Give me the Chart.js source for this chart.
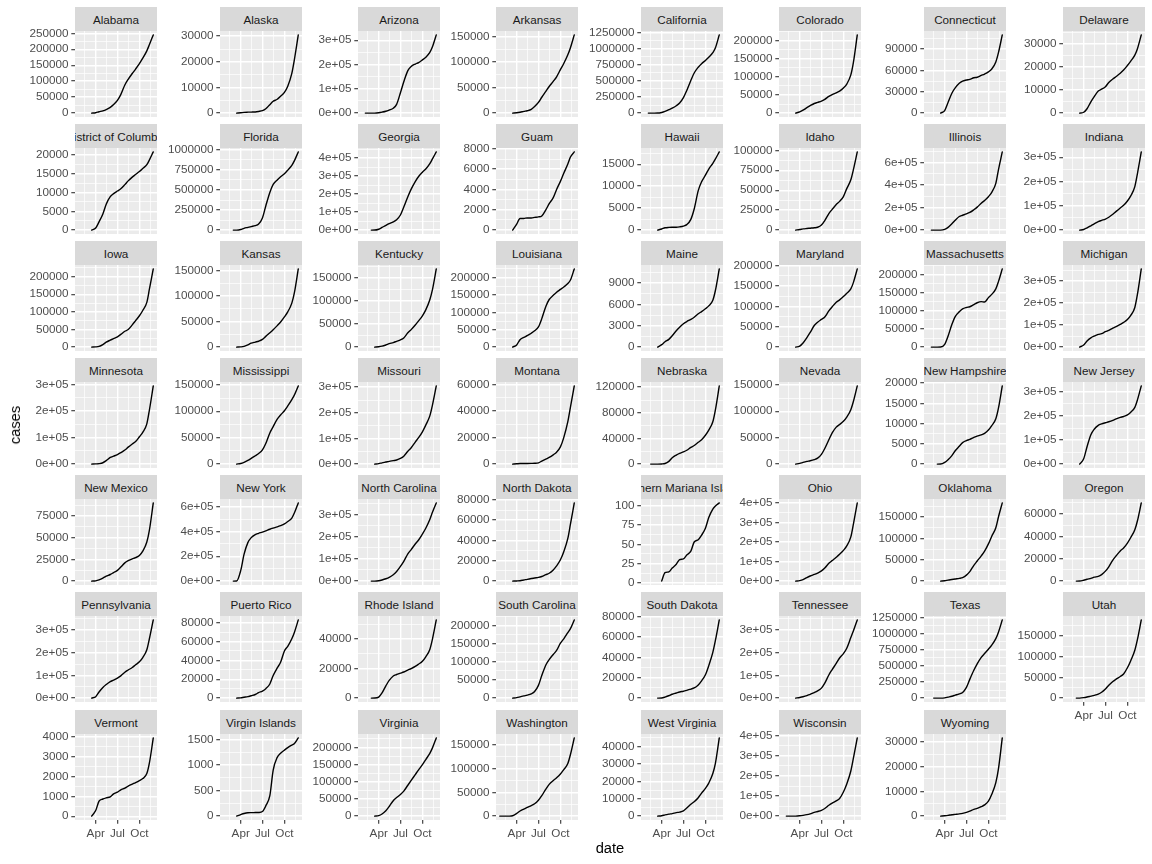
<!DOCTYPE html>
<html><head><meta charset="utf-8">
<script src="https://cdn.jsdelivr.net/npm/chart.js@4.4.1/dist/chart.umd.min.js"></script>
<style>
html,body{margin:0;padding:0;background:#fff;}
#wrap{position:relative;width:1152px;height:864px;overflow:hidden;font-family:"Liberation Sans",Arial,sans-serif;}
.strip{position:absolute;background:#D9D9D9;color:#1A1A1A;font-size:11.7px;display:flex;justify-content:center;align-items:center;overflow:hidden;white-space:nowrap;}
.strip span{flex:none;}
canvas{position:absolute;}
.title{position:absolute;color:#000;font-size:14.7px;white-space:nowrap;}
</style></head><body><div id="wrap"></div>
<script>
const N = null;
const dates = ['2020-01-21','2020-02-05','2020-02-15','2020-03-01','2020-03-15','2020-04-01','2020-04-15','2020-05-01','2020-05-15','2020-06-01','2020-06-15','2020-07-01','2020-07-15','2020-08-01','2020-08-15','2020-09-01','2020-09-15','2020-10-01','2020-10-15','2020-11-01','2020-11-12','2020-11-28'];
const stateNames = ['Alabama','Alaska','Arizona','Arkansas','California','Colorado','Connecticut','Delaware','District of Columbia','Florida','Georgia','Guam','Hawaii','Idaho','Illinois','Indiana','Iowa','Kansas','Kentucky','Louisiana','Maine','Maryland','Massachusetts','Michigan','Minnesota','Mississippi','Missouri','Montana','Nebraska','Nevada','New Hampshire','New Jersey','New Mexico','New York','North Carolina','North Dakota','Northern Mariana Islands','Ohio','Oklahoma','Oregon','Pennsylvania','Puerto Rico','Rhode Island','South Carolina','South Dakota','Tennessee','Texas','Utah','Vermont','Virgin Islands','Virginia','Washington','West Virginia','Wisconsin','Wyoming'];

const alabama = [N,N,N,N,12,1100,4100,7000,11000,18000,27000,40000,58000,88000,106000,124000,138000,155000,172000,195000,215000,245000];
const alaska = [N,N,N,N,1,130,290,360,390,450,640,950,1700,3300,4600,5400,6600,8100,10500,15500,21000,30500];
const arizona = [N,1,1,1,13,1400,3900,7600,12700,20000,36000,84000,129000,175000,192000,202000,208000,219000,230000,250000,273000,322000];
const arkansas = [N,N,N,N,16,600,1600,3300,4600,7400,12900,21000,31000,42500,52000,62000,71000,85000,97000,114000,128000,153000];
const california = [N,12,15,40,400,9800,26000,52000,76000,114000,156000,239000,350000,505000,620000,710000,765000,815000,865000,935000,1010000,1210000];
const colorado = [N,N,N,N,130,3300,8000,15000,20500,26500,29500,33000,38000,46000,51000,56000,60500,69000,80000,105000,140000,215000];
const connecticut = [N,N,N,N,26,3600,14800,28000,35500,42000,45000,46500,47500,49800,50500,53000,55000,58000,62000,72000,85000,110000];
const delaware = [N,N,N,N,7,370,1900,4900,7200,9600,10400,11500,13300,14800,15900,17300,18700,20700,22600,25200,28000,34000];
const districtOfColumbia = [N,N,N,N,16,580,2200,4300,6900,8900,9700,10400,11000,12100,13100,14100,14800,15600,16400,17400,18700,20800];
const florida = [N,N,N,2,110,7000,22000,33700,44000,56000,77000,152000,301000,470000,569000,625000,664000,703000,748000,808000,866000,975000];
const georgia = [N,N,N,2,99,4700,14600,26300,36000,46000,58000,84000,128000,186000,228000,270000,298000,322000,340000,370000,396000,435000];
const guam = [N,N,N,N,3,600,1150,1150,1200,1200,1250,1300,1400,2000,2600,3200,4000,4800,5600,6500,7200,7700];
const hawaii = [N,N,N,N,7,260,530,620,640,650,740,920,1250,2450,4800,9000,11000,12500,13900,15200,16200,17800];
const idaho = [N,N,N,N,5,670,1460,2000,2400,2900,3600,6400,12000,20700,26000,32000,36000,42000,52000,63000,76000,98000];
const illinois = [N,2,2,3,95,6900,24600,56000,88000,121000,132000,144000,157000,181000,204000,239000,263000,297000,336000,415000,536000,695000];
const indiana = [N,N,N,N,20,2500,8900,17800,26000,35000,40000,45500,53000,65000,77000,91000,102000,120000,141000,179000,233000,322000];
const iowa = [N,N,N,N,23,550,2000,7200,14000,19800,24000,29000,36000,45000,50000,63000,75000,89000,104000,127000,165000,222000];
const kansas = [N,N,N,N,8,430,1400,4400,7600,9800,11500,15000,21000,28000,34000,42000,49000,59000,69000,86000,107000,153000];
const kentucky = [N,N,N,N,21,630,2000,4600,7400,9900,12600,15600,20000,31000,38000,48000,57000,68000,81000,103000,125000,170000];
const louisiana = [N,N,N,N,100,6400,21500,28000,33000,40000,47000,58000,82000,117000,137000,149000,158000,166000,173000,183000,193000,225000];
const maine = [N,N,N,N,12,350,760,1100,1600,2300,2800,3300,3600,3900,4200,4700,5000,5400,5800,6600,8000,11000];
const maryland = [N,N,N,N,37,2300,10000,23500,36000,53000,61000,68000,74000,89000,99000,110000,116000,124000,132000,143000,159000,192000];
const massachusetts = [N,1,1,1,160,7700,29900,62000,84000,97000,105000,109000,111000,117000,122000,125000,124000,136000,145000,160000,180000,215000];
const michigan = [N,N,N,N,53,9300,28000,42000,50000,57500,61000,70000,76000,86000,93000,103000,112000,125000,144000,180000,240000,355000];
const minnesota = [N,N,N,N,35,690,1700,5100,13000,25000,30000,36000,43000,53000,64000,76000,85000,103000,120000,152000,205000,295000];
const mississippi = [N,N,N,N,10,1180,3400,6900,10800,15800,20000,27000,39000,59000,71000,85000,93000,101000,110000,122000,131000,148000];
const missouri = [N,N,N,N,10,1600,4900,8000,10800,13600,16000,22000,31000,50000,64000,86000,103000,126000,152000,188000,230000,305000];
const montana = [N,N,N,N,7,210,400,450,460,530,620,970,2300,3800,5000,7000,9000,13000,20000,32000,43000,59000];
const nebraska = [N,N,13,13,20,210,900,4300,9900,14000,16600,19000,21600,26000,29000,34000,38000,45000,53000,66000,85000,122000];
const nevada = [N,N,N,N,21,1300,3200,5100,6400,8600,11300,18500,29600,46000,59000,70000,75000,81000,89000,103000,119000,148000];
const newHampshire = [N,N,N,2,13,420,1100,2100,3300,4400,5300,5800,6100,6600,6900,7200,7600,8400,9500,11200,13800,19300];
const newJersey = [N,N,N,N,100,22000,72000,122000,145000,161000,167000,172000,176000,182000,188000,194000,198000,205000,216000,236000,267000,325000];
const newMexico = [N,N,N,N,13,310,1400,3400,5700,7600,9800,12300,16100,21000,23500,25500,27000,29500,34500,45000,59000,90000];
const newYork = [N,N,N,1,730,84000,215000,310000,350000,375000,385000,395000,405000,418000,427000,437000,447000,461000,480000,508000,550000,630000];
const northCarolina = [N,N,N,1,33,1600,5100,10500,17000,28500,43000,66000,89000,123000,142000,167000,185000,212000,238000,277000,310000,352000];
const northDakota = [N,N,N,N,1,140,340,1100,1700,2500,3100,3600,4500,6300,7700,11000,15000,21000,29000,42000,56000,77000];
const northernMarianaIslands = [N,N,N,N,N,2,13,14,19,24,30,31,36,41,53,56,62,71,85,96,100,104];
const ohio = [N,N,N,N,37,2500,7300,18000,26000,34000,41000,52000,67000,91000,105000,122000,137000,157000,180000,226000,293000,400000];
const oklahoma = [N,N,N,N,8,720,2200,3600,4900,6400,8200,14000,22000,37000,47000,59000,70000,87000,105000,125000,150000,183000];
const oregon = [N,N,N,1,39,740,1660,2450,3500,4250,5800,8900,12800,18800,22700,27000,29600,34000,39000,46000,54000,70000];
const pennsylvania = [N,N,N,N,63,6000,27000,47000,60000,73000,79000,88000,98000,114000,124000,135000,147000,160000,179000,213000,263000,345000];
const puertoRico = [N,N,N,N,5,290,900,1500,2500,3800,5800,7500,10000,15000,24000,32000,38000,50000,55000,63000,70000,83000];
const rhodeIsland = [N,N,N,2,20,670,3500,8300,12000,15000,16000,16900,17700,19000,20000,21500,23000,25000,28000,33000,40000,53000];
const southCarolina = [N,N,N,N,28,1300,3500,6100,8200,11800,18000,35000,62000,91000,106000,120000,131000,151000,163000,180000,191000,215000];
const southDakota = [N,N,N,N,9,130,990,2400,3800,5000,6000,6800,7600,8900,10000,13000,17000,23000,32000,45000,57000,77000];
const tennessee = [N,N,N,N,39,2800,5800,10700,16700,24400,32000,44000,66000,102000,126000,153000,177000,196000,220000,267000,297000,345000];
const texas = [N,N,2,10,76,4100,15500,28700,45000,65000,88000,167000,290000,430000,530000,630000,690000,757000,820000,920000,1020000,1210000];
const utah = [N,N,N,1,39,1000,2500,4700,6600,9600,14000,22000,31000,40000,45500,52000,58000,73000,90000,115000,141000,188000];
const vermont = [N,N,N,N,8,290,760,870,930,980,1130,1220,1330,1420,1520,1620,1700,1800,1900,2150,2700,3950];
const virginIslands = [N,N,N,N,1,30,51,66,69,70,72,90,200,400,900,1150,1230,1290,1340,1390,1420,1530];
const virginia = [N,N,N,N,45,1500,6200,15800,28000,45000,54000,63000,73000,90000,104000,121000,135000,150000,165000,183000,199000,228000];
const washington = [1,1,1,18,770,5600,10800,14800,18300,22300,26000,33500,43000,57000,67000,75000,81000,89000,98000,111000,130000,165000];
const westVirginia = [N,N,N,N,1,190,700,1150,1450,2000,2300,3000,4600,6800,8300,10600,13200,16000,19000,24500,30500,45000];
const wisconsin = [N,1,1,1,33,1500,3700,7000,11300,18600,23000,29000,38000,54000,65000,76000,88000,120000,160000,225000,290000,390000];
const wyoming = [N,N,N,N,3,130,290,550,700,880,1100,1500,2000,2700,3100,3800,4500,6000,8800,13500,19000,31500];

const series = [alabama,alaska,arizona,arkansas,california,colorado,connecticut,delaware,districtOfColumbia,florida,georgia,guam,hawaii,idaho,illinois,indiana,iowa,kansas,kentucky,louisiana,maine,maryland,massachusetts,michigan,minnesota,mississippi,missouri,montana,nebraska,nevada,newHampshire,newJersey,newMexico,newYork,northCarolina,northDakota,northernMarianaIslands,ohio,oklahoma,oregon,pennsylvania,puertoRico,rhodeIsland,southCarolina,southDakota,tennessee,texas,utah,vermont,virginIslands,virginia,washington,westVirginia,wisconsin,wyoming];

const yStep = [50000,10000,100000,50000,250000,50000,30000,10000,5000,250000,100000,2000,5000,25000,200000,100000,50000,50000,50000,50000,3000,50000,50000,100000,100000,50000,100000,20000,40000,50000,5000,100000,25000,200000,100000,20000,25,100000,50000,20000,100000,20000,20000,50000,20000,100000,250000,50000,1000,500,50000,50000,10000,100000,10000];

const xTickDates = ['2020-04-01','2020-07-01','2020-10-01'];
const xTickLabels = ['Apr','Jul','Oct'];
const xOuterDates = ['2020-01-01','2021-01-01'];

// ---- layout constants ----
const colLeft = [75,220,358,496,641,779,924,1063];
const rowTop = [31,148,265,382,499,616,734];
const panelW = 82, panelH = 86, stripH = 24;
const AXW = 64, PADT = 9, PADR = 6, XAH = 22;
const FONT = '"Liberation Sans", Arial, sans-serif';

function dayOf(s){ const p = s.split('-').map(Number); return (Date.UTC(p[0],p[1]-1,p[2]) - Date.UTC(2020,0,1))/864e5 + 1; }
const xDays = dates.map(dayOf);
const xMin = Math.min(...xDays), xMax = Math.max(...xDays);
const xlo = xMin - 0.05*(xMax-xMin), xhi = xMax + 0.05*(xMax-xMin);
const xMajDays = xTickDates.map(dayOf);
const xAll = [dayOf(xOuterDates[0]), ...xMajDays, dayOf(xOuterDates[1])];
const xTickList = [];
for (let k=0;k<xAll.length-1;k++){
  const mid = (xAll[k]+xAll[k+1])/2;
  if (mid>=xlo && mid<=xhi) xTickList.push({value:mid, isMaj:false, lab:''});
}
xMajDays.forEach((d,k)=>{ if (d>=xlo && d<=xhi) xTickList.push({value:d, isMaj:true, lab:xTickLabels[k]}); });
xTickList.sort((a,b)=>a.value-b.value);

function fmtLabels(vals){
  const fixed = vals.map(v => String(Math.round(v)));
  const parts = vals.map(v => { if (v===0) return [0,0]; const e = Math.floor(Math.log10(Math.abs(v))+1e-12); return [v/Math.pow(10,e), e]; });
  let d = 0;
  for (d=0; d<8; d++){ if (parts.every(p => Math.abs(p[0] - Number(p[0].toFixed(d))) < 1e-9)) break; }
  const sci = parts.map(p => p[0].toFixed(d) + 'e' + (p[1]<0?'-':'+') + String(Math.abs(p[1])).padStart(2,'0'));
  const fw = Math.max(...fixed.map(s=>s.length)), sw = Math.max(...sci.map(s=>s.length));
  return sw < fw ? sci : fixed;
}

const bgPlugin = { id:'panelBg', beforeDraw(chart){ const a = chart.chartArea, c = chart.ctx; c.save(); c.fillStyle = '#EBEBEB'; c.fillRect(a.left, a.top, a.right-a.left, a.bottom-a.top); c.restore(); } };

const wrap = document.getElementById('wrap');

stateNames.forEach((name, i) => {
  const col = i % 8, row = Math.floor(i / 8);
  const left = colLeft[col], top = rowTop[row];
  const st = document.createElement('div');
  st.className = 'strip';
  st.style.left = left+'px'; st.style.top = (top-stripH)+'px';
  st.style.width = panelW+'px'; st.style.height = stripH+'px';
  const sp = document.createElement('span'); sp.textContent = name; st.appendChild(sp);
  wrap.appendChild(st);

  const vals = series[i];
  const pts = [];
  vals.forEach((v,k) => { if (v !== null) pts.push({x:xDays[k], y:v}); });
  const ys = pts.map(p=>p.y);
  const ymin = Math.min(...ys), ymax = Math.max(...ys);
  const ylo = ymin - 0.05*(ymax-ymin), yhi = ymax + 0.05*(ymax-ymin);
  const step = yStep[i], half = step/2;
  const majVals = [];
  for (let k=Math.ceil(ylo/step); k*step<=yhi; k++) majVals.push(k*step);
  const labs = fmtLabels(majVals);
  const yTickList = [];
  for (let k=Math.ceil(ylo/half); k*half<=yhi; k++){
    const v = k*half;
    const mi = majVals.indexOf(v);
    yTickList.push(mi>=0 ? {value:v, isMaj:true, lab:labs[mi]} : {value:v, isMaj:false, lab:''});
  }

  const showX = (row === 6) || (row === 5 && col === 7);
  const W = AXW + panelW + PADR, H = PADT + panelH + XAH;
  const cv = document.createElement('canvas');
  cv.width = W; cv.height = H;
  cv.style.left = (left-AXW)+'px'; cv.style.top = (top-PADT)+'px';
  cv.style.width = W+'px'; cv.style.height = H+'px';
  wrap.appendChild(cv);

  const gridOpts = {
    color: '#FFFFFF',
    lineWidth: c => (c.tick && c.tick.isMaj) ? 1.4 : 0.7,
    tickColor: c => (c.tick && c.tick.isMaj) ? '#333333' : 'rgba(0,0,0,0)',
    tickWidth: 1.1,
    tickLength: 3.7,
    drawOnChartArea: true
  };

  new Chart(cv, {
    type: 'line',
    data: { datasets: [{ data: pts, borderColor: '#000000', borderWidth: 1.4, pointRadius: 0, fill: false, cubicInterpolationMode: 'monotone', borderJoinStyle: 'round', borderCapStyle: 'round' }] },
    options: {
      responsive: false, animation: false, devicePixelRatio: 1,
      layout: { padding: { top: PADT, right: PADR, left: 0, bottom: 0 } },
      plugins: { legend: { display: false }, tooltip: { enabled: false }, title: { display: false } },
      events: [],
      scales: {
        x: {
          type: 'linear', min: xlo, max: xhi,
          afterBuildTicks: s => { s.ticks = xTickList.map(t => ({...t})); },
          afterFit: s => { s.height = XAH; s.paddingLeft = 0; s.paddingRight = 0; },
          border: { display: false },
          grid: Object.assign({}, gridOpts, { drawTicks: showX }),
          ticks: { display: showX, autoSkip: false, maxRotation: 0, minRotation: 0, padding: 2.9, color: '#4D4D4D', font: { family: FONT, size: 11.7 },
                   callback: (v, idx, ticks) => ticks[idx].isMaj ? ticks[idx].lab : '' }
        },
        y: {
          type: 'linear', min: ylo, max: yhi,
          afterBuildTicks: s => { s.ticks = yTickList.map(t => ({...t})); },
          afterFit: s => { s.width = AXW; s.paddingTop = 0; s.paddingBottom = 0; },
          border: { display: false },
          grid: Object.assign({}, gridOpts, { drawTicks: true }),
          ticks: { autoSkip: false, padding: 2.9, color: '#4D4D4D', font: { family: FONT, size: 11.7 },
                   callback: (v, idx, ticks) => ticks[idx].isMaj ? ticks[idx].lab : '' }
        }
      }
    },
    plugins: [bgPlugin]
  });
});

const yt = document.createElement('div');
yt.className = 'title'; yt.textContent = 'cases';
yt.style.left = '14.6px'; yt.style.top = '425px';
yt.style.transform = 'translate(-50%,-50%) rotate(-90deg)';
wrap.appendChild(yt);
const xt = document.createElement('div');
xt.className = 'title'; xt.textContent = 'date';
xt.style.left = '610px'; xt.style.top = '848px';
xt.style.transform = 'translate(-50%,-50%)';
wrap.appendChild(xt);
</script></body></html>
